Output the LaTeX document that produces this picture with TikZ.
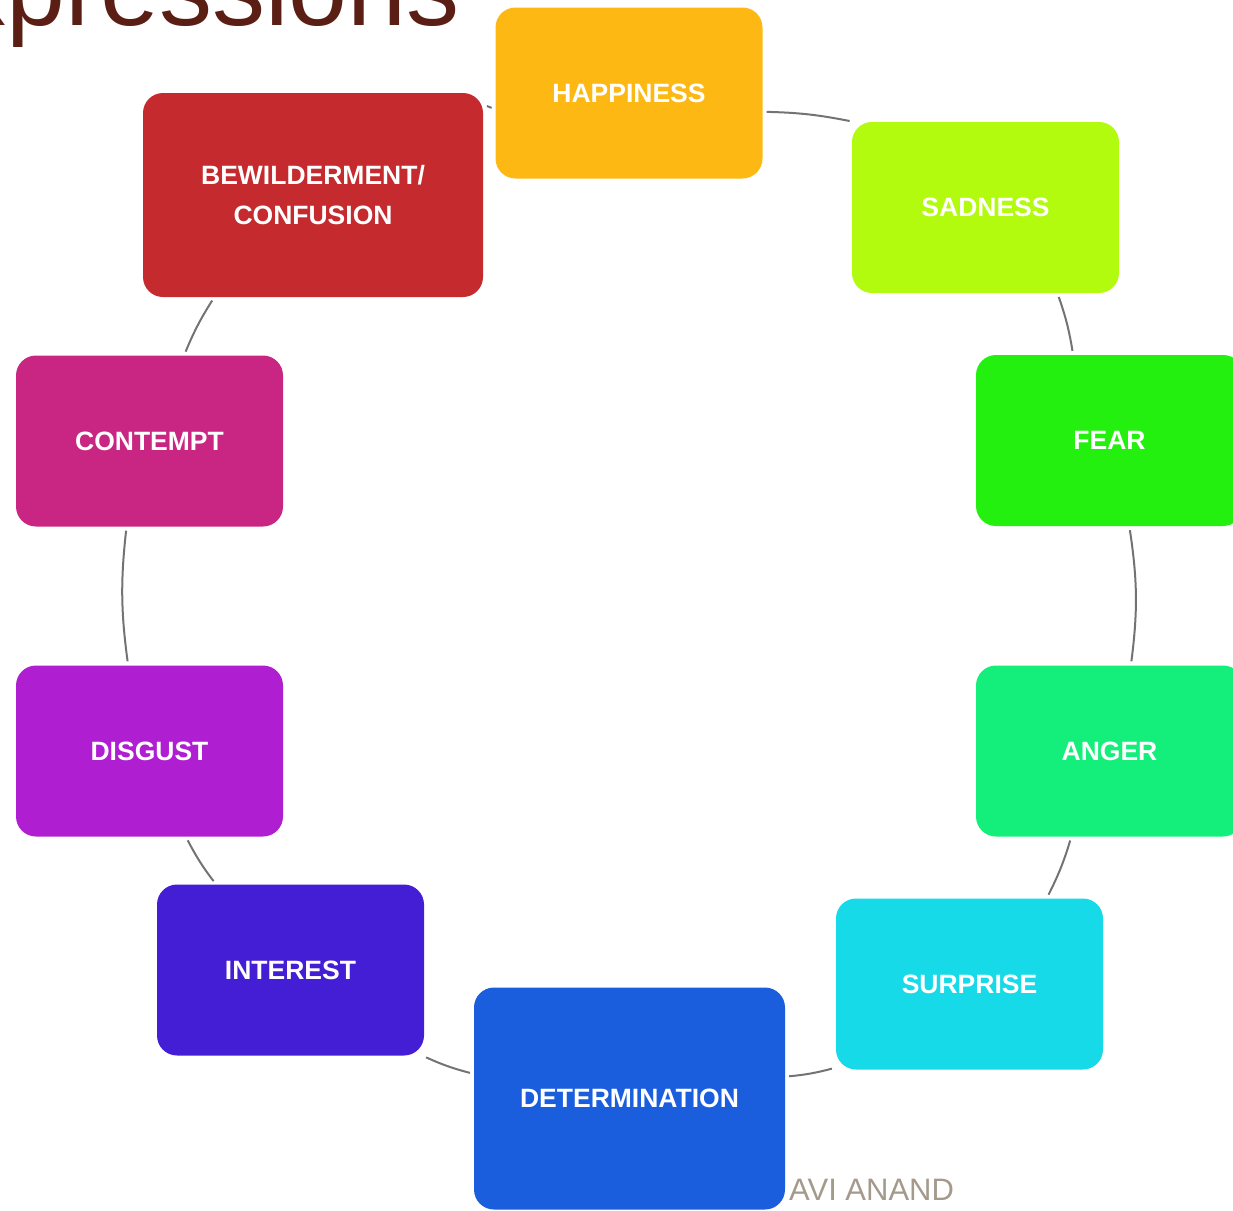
\documentclass[tikz,border=0pt]{standalone}
\usepackage{fontspec}
\setmainfont{Liberation Sans}
\usetikzlibrary{shapes, arrows}
\definecolor{happycol}{HTML}{FDB813}
\definecolor{sadcol}{HTML}{B2FA0E}
\definecolor{fearcol}{HTML}{24F010}
\definecolor{angercol}{HTML}{14EE7A}
\definecolor{surprisecol}{HTML}{16DAE8}
\definecolor{determcol}{HTML}{1A5EDE}
\definecolor{interestcol}{HTML}{441ED4}
\definecolor{disgustcol}{HTML}{B01ED2}
\definecolor{contemptcol}{HTML}{C82682}
\definecolor{bewcol}{HTML}{C42A2E}
\definecolor{titlecol}{HTML}{5A1E14}
\definecolor{authorcol}{HTML}{A39A8C}
\tikzstyle{ecell} = [rectangle, rounded corners=20pt, text=white, font=\fontsize{26.5}{40}\selectfont\bfseries, align=center, minimum width=267pt, minimum height=171pt, inner sep=0pt]
\tikzstyle{line} = [draw=black!55, line width=2pt, shorten <=4pt, shorten >=4pt]

\begin{document}
\begin{tikzpicture}[x=1pt, y=-1pt]
    \useasboundingbox (0,0) rectangle (1233,1210);
    \clip (0,0) rectangle (1233,1210);

    \node[anchor=base west, inner sep=0pt, text=titlecol, font=\fontsize{106}{106}\selectfont](title) at (-47,25) {xpressions};

    \node[ecell, fill=happycol](happy) at (629,93) {HAPPINESS};
    \node[ecell, fill=sadcol](sad) at (985.5,207.5) {SADNESS};
    \node[ecell, fill=fearcol](fear) at (1109.5,440.5) {FEAR};
    \node[ecell, fill=angercol](anger) at (1109.5,751) {ANGER};
    \node[ecell, fill=surprisecol](surprise) at (969.5,984) {SURPRISE};
    \node[ecell, fill=determcol, minimum width=311pt, minimum height=222pt](determ) at (629.5,1098.5) {DETERMINATION};
    \node[ecell, fill=interestcol](interest) at (290.5,970) {INTEREST};
    \node[ecell, fill=disgustcol](disgust) at (149.5,751) {DISGUST};
    \node[ecell, fill=contemptcol](contempt) at (149.5,441) {CONTEMPT};
    \node[ecell, fill=bewcol, minimum width=340pt, minimum height=204pt](bew) at (313,195) {BEWILDERMENT/\\CONFUSION};

    \node[anchor=base west, inner sep=0pt, text=authorcol, font=\fontsize{31}{31}\selectfont](author) at (789,1200) {AVI ANAND};

    \path[line] (bew.28) -- (happy.187);
    \path[line] (happy.-8) to[bend left=5] (sad.147);
    \path[line] (sad.-50) to[bend left=5] (fear.113);
    \path[line] (fear.-77) to[bend left=8] (anger.76);
    \path[line] (anger.-114) to[bend left=5] (surprise.48);
    \path[line] (surprise.-148) to[bend left=5] (determ.8);
    \path[line] (determ.171) to[bend left=5] (interest.-33);
    \path[line] (interest.131) to[bend left=5] (disgust.-67);
    \path[line] (disgust.104) to[bend left=7] (contempt.-105);
    \path[line] (contempt.68) to[bend left=5] (bew.-134);
\end{tikzpicture}
\end{document}
